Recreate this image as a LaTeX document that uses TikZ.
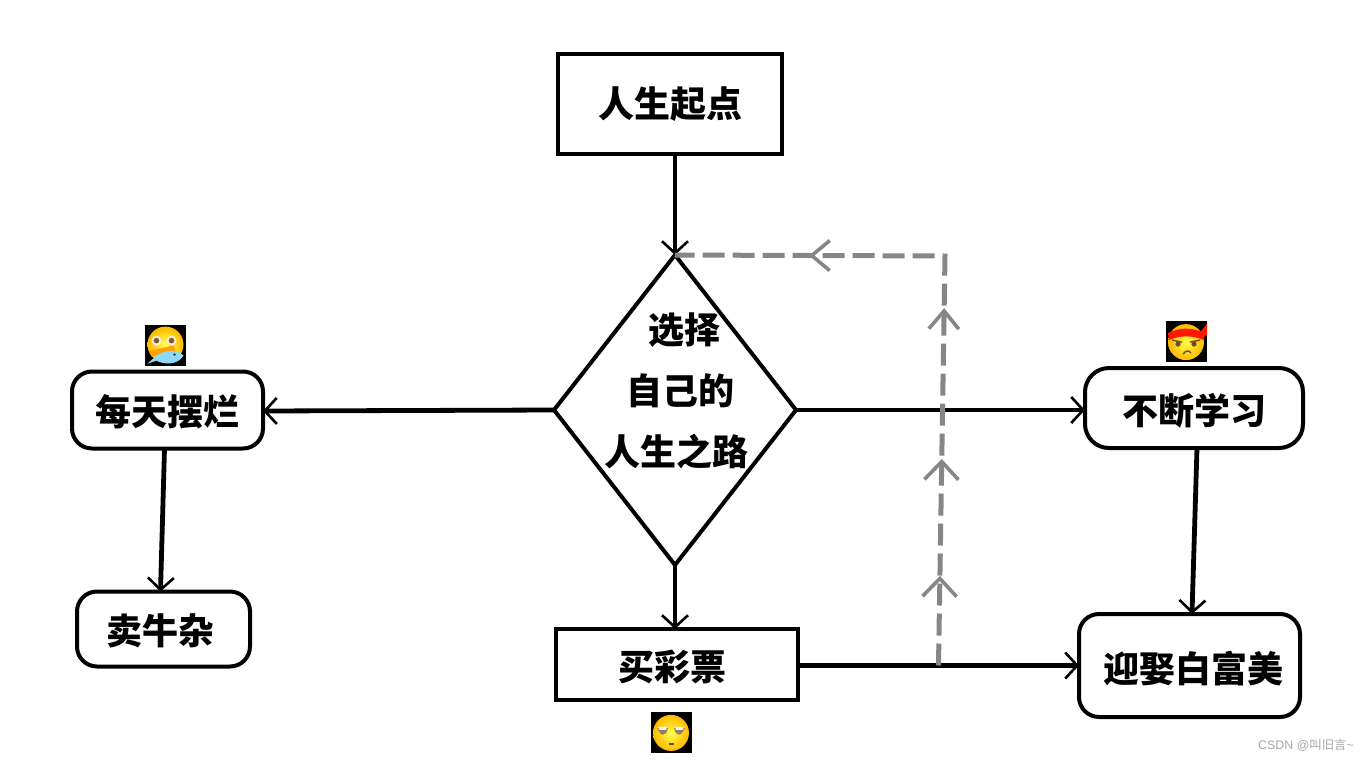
\documentclass[tikz,border=0pt]{standalone}
\usepackage{fontspec}
\setmainfont{Noto Sans CJK SC}
\newfontfamily\wmfont{Liberation Sans}
\usetikzlibrary{arrows.meta,positioning,calc,shapes.geometric,decorations.markings}
\newcommand{\boxtext}[3]{\vphantom{#3}\smash{\raisebox{#2}{\hspace*{#1}#3}}}
\tikzset{
  blk/.style={draw,rectangle,line width=2pt,outer sep=0pt,inner sep=0pt,align=center,font=\fontsize{18pt}{22pt}\selectfont\bfseries},
  rblk/.style={blk,rounded corners=10pt},
  choicenode/.style={draw,diamond,line width=2pt,outer sep=0pt,inner sep=0pt,minimum width=121pt,minimum height=155pt},
  lbl/.style={inner sep=0pt,font=\fontsize{18pt}{22pt}\selectfont\bfseries},
  arr/.style={line width=2.4pt,-{Straight Barb[length=6pt,width=13pt,line width=1.3pt]}},
  garr/.style={draw=gray!95,line width=2.5pt,dash pattern=on 11pt off 4pt},
  gtip/.style={gray!95,line width=1.8pt},
  emoji/.style={rectangle,fill=black,inner sep=0pt,minimum size=20.5pt},
  wm/.style={inner sep=0pt,text=gray!70,font=\fontsize{6.2pt}{7pt}\selectfont},
  ball/.style={inner color=yellow!70!white,outer color=orange!55!yellow},
  fishpic/.pic={
    \shade[ball] (0,-1) circle (18);
    \fill[white!85!brown] (-9,-5) circle (5) (6,-5) circle (5);
    \fill[brown!70!black] (-9,-5) circle (2.8) (6,-5) circle (2.8);
    \fill[orange!75!yellow] (-16,5) -- (8,0) -- (10,5) -- (-14,11) -- cycle;
    \fill[cyan!45!white] (-18,18) -- (-10,11) .. controls (-2,4) and (12,3) .. (18,10) .. controls (12,20) and (-2,19) .. (-9,15) -- cycle;
    \fill[black!70] (9,9) circle (1.4);
  },
  bandpic/.pic={
    \shade[ball] (0,1) circle (18);
    \fill[red!80!orange] (-18,-8) .. controls (-6,-14) and (6,-14) .. (19,-8) -- (18,-1) .. controls (6,-6) and (-6,-6) .. (-17,-1) -- cycle;
    \fill[red!80!orange] (13,-8) -- (21,-17) -- (21,-5) -- cycle;
    \fill[brown!60!black] (-8,3) circle (2.6) (8,3) circle (2.6);
    \draw[brown!60!black,line width=.7pt] (-14,-1) -- (-4,1) (14,-1) -- (4,1) (-3,13) .. controls (0,9) and (3,9) .. (5,12);
  },
  sleepypic/.pic={
    \shade[ball] (0,0) circle (18);
    \fill[brown!55!black!70] (-14,-5) .. controls (-10,4) and (-5,4) .. (-3,-5) -- cycle;
    \fill[brown!55!black!70] (3,-5) .. controls (5,4) and (10,4) .. (14,-5) -- cycle;
    \fill[white!90!brown] (-13,-6) -- (-4,-6) -- (-5,-3) -- (-12,-3) -- cycle;
    \fill[white!90!brown] (4,-6) -- (13,-6) -- (12,-3) -- (5,-3) -- cycle;
    \draw[brown!60!black,line width=.6pt] (-2,11) -- (3,11);
  }
}
\begin{document}
\begin{tikzpicture}[x=.5pt,y=-.5pt]
  \useasboundingbox (0,0) rectangle (1367,761);

  \node[blk,minimum width=112pt,minimum height=50pt] (start) at (670,104) {人生起点};
  \node[choicenode,below=50.5pt of start,xshift=2.5pt] (choice) {};
  \node[rblk,minimum width=95.5pt,minimum height=38.5pt,left=145.5pt of choice] (lazy) {\boxtext{0pt}{-.8pt}{每天摆烂}};
  \node[rblk,minimum width=86.5pt,minimum height=37.5pt,below=71.5pt of lazy,xshift=-2pt] (stall) {\boxtext{-3.5pt}{-1pt}{卖牛杂}};
  \node[rblk,rounded corners=12pt,minimum width=109pt,minimum height=40pt,right=144.5pt of choice,yshift=1pt] (study) {\boxtext{0pt}{-1.5pt}{不断学习}};
  \node[rblk,minimum width=110.5pt,minimum height=51.5pt,below=83pt of study,xshift=-2.25pt] (marry) {\boxtext{4pt}{-1.5pt}{迎娶白富美}};
  \node[blk,minimum width=121pt,minimum height=35.5pt,below=32pt of choice,xshift=1pt] (lottery) {\boxtext{-5pt}{-1pt}{买彩票}};

  % text in the diamond, each line sits a little further left
  \node[lbl] (line1) at (684,330) {选择};
  \node[lbl] (line2) at (680,391) {自己的};
  \node[lbl] (line3) at (676,452) {人生之路};

  \node[emoji,above=2.5pt of lazy,xshift=-1pt] (fishface) {};
  \node[emoji,above=3pt of study,xshift=-4pt] (bandface) {};
  \node[emoji,below=6pt of lottery,xshift=-3pt] (sleepyface) {};
  \pic at (fishface) {fishpic};
  \pic at (bandface) {bandpic};
  \pic at (sleepyface) {sleepypic};

  \draw[arr] (choice.north |- start.south)--(choice.north);
  \draw[arr] (choice.west)--([yshift=-.5pt]lazy.east);
  \draw[arr] (choice.east)--(choice.east -| study.west);
  \draw[arr] (choice.south)--(choice.south |- lottery.north);
  \draw[arr] ([xshift=-1.5pt]lazy.south)--([xshift=-1.5pt]stall.north);
  \draw[arr] ([xshift=1.5pt]study.south)--([xshift=1.25pt]marry.north);
  \draw[arr] (lottery.east |- marry.west)--(marry.west);

  % grey way back up to the diamond
  \coordinate (gate) at ($(lottery.east |- marry.west)!0.5!(marry.west)$);
  \coordinate (turn) at (945,256);
  \path[garr,postaction={decorate},decoration={markings,
      mark=at position .132 with {\arrow[gtip]{Straight Barb[length=9pt,width=17pt]}},
      mark=at position .304 with {\arrow[gtip]{Straight Barb[length=9pt,width=17pt]}},
      mark=at position .526 with {\arrow[gtip]{Straight Barb[length=9pt,width=15pt]}},
      mark=at position .803 with {\arrow[gtip]{Straight Barb[length=9pt,width=15pt]}}}]
    (gate) -- (turn) -- (choice.north);

  \node[wm] (csdn) at (1306,745) {{\wmfont CSDN @}叫旧言{\wmfont\string~}};
\end{tikzpicture}
\end{document}
